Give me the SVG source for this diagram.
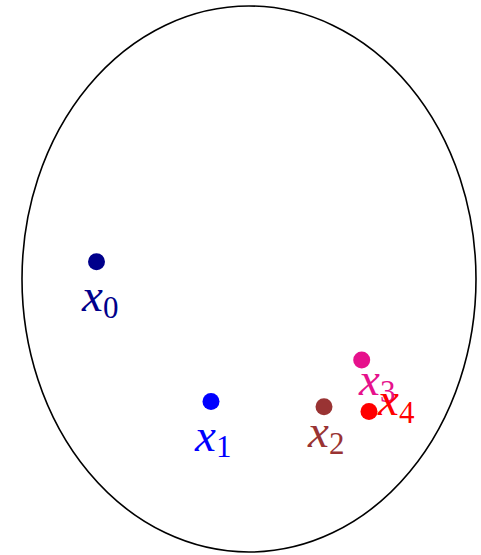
<svg xmlns="http://www.w3.org/2000/svg" width="481" height="555" viewBox="0 0 481 555">
<style>
.lbl{font-family:"Liberation Serif","Times New Roman",serif;font-size:47px}
.v{font-style:italic}
.s{font-size:31px}
</style>
<rect width="481" height="555" fill="#fff"/>
<g id="region"><ellipse cx="249" cy="279" rx="227" ry="273" fill="none" stroke="#000" stroke-width="1.6"/></g>
<g id="x0" fill="#00008B"><circle cx="96.5" cy="261.7" r="8.5"/><text class="lbl" x="82" y="311"><tspan class="v">x</tspan><tspan class="s" dy="7">0</tspan></text></g>
<g id="x1" fill="#0000FF"><circle cx="211" cy="401.5" r="8.5"/><text class="lbl" x="195" y="451"><tspan class="v">x</tspan><tspan class="s" dy="6">1</tspan></text></g>
<g id="x2" fill="#993333"><circle cx="324" cy="406.7" r="8.5"/><text class="lbl" x="308" y="447"><tspan class="v">x</tspan><tspan class="s" dy="7">2</tspan></text></g>
<g id="x3" fill="#E6118C"><circle cx="361.7" cy="360" r="8.5"/><text class="lbl" x="359" y="395"><tspan class="v">x</tspan><tspan class="s" dy="7">3</tspan></text></g>
<g id="x4" fill="#FF0000"><circle cx="369" cy="411.5" r="8.5"/><text class="lbl" x="378" y="415"><tspan class="v">x</tspan><tspan class="s" dy="8">4</tspan></text></g>
</svg>
